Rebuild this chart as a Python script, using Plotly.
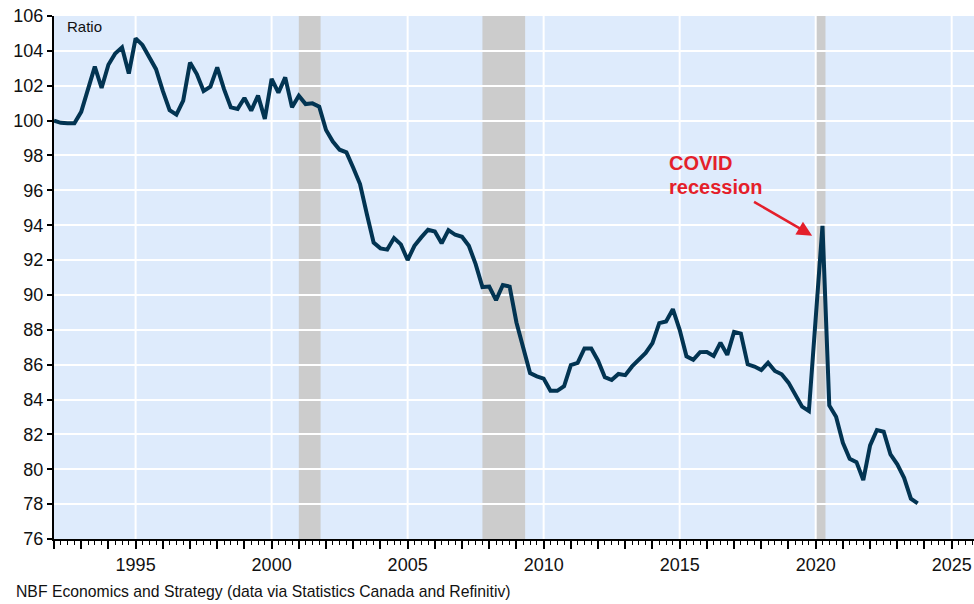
import plotly.graph_objects as go

start_year = 1992
values = [
    100.0, 99.87, 99.85, 99.85,      # 1992
    100.5, 101.8, 103.1, 101.87,     # 1993
    103.2, 103.85, 104.2, 102.7,     # 1994
    104.72, 104.34, 103.6, 102.95,   # 1995
    101.7, 100.6, 100.34, 101.15,    # 1996
    103.33, 102.67, 101.7, 101.94,   # 1997
    103.05, 101.8, 100.76, 100.67,   # 1998
    101.3, 100.57, 101.43, 100.1,    # 1999
    102.4, 101.6, 102.48, 100.76,    # 2000
    101.43, 100.95, 100.99, 100.8,   # 2001
    99.46, 98.8, 98.33, 98.18,       # 2002
    97.3, 96.36, 94.64, 93.0,        # 2003
    92.67, 92.6, 93.26, 92.9,        # 2004
    92.0, 92.82, 93.3, 93.74,        # 2005
    93.64, 92.96, 93.72, 93.45,      # 2006
    93.34, 92.82, 91.77, 90.45,      # 2007
    90.48, 89.7, 90.57, 90.48,       # 2008
    88.42, 86.9, 85.52, 85.33,       # 2009
    85.2, 84.5, 84.5, 84.76,         # 2010
    85.98, 86.1, 86.93, 86.93,       # 2011
    86.23, 85.28, 85.12, 85.47,      # 2012
    85.4, 85.9, 86.28, 86.67,        # 2013
    87.24, 88.38, 88.48, 89.18,      # 2014
    88.0, 86.48, 86.28, 86.72,       # 2015
    86.73, 86.5, 87.26, 86.56,       # 2016
    87.88, 87.78, 86.02, 85.89,      # 2017
    85.69, 86.11, 85.64, 85.45,      # 2018
    84.97, 84.3, 83.59, 83.34,       # 2019
    88.66, 93.96, 83.66, 83.01,      # 2020
    81.52, 80.6, 80.41, 79.38,       # 2021
    81.37, 82.25, 82.15, 80.85,      # 2022
    80.28, 79.51, 78.31, 78.04,      # 2023
]
x_dates = [start_year + i / 4 for i in range(len(values))]

recession_starts = [2001.0, 2007.75, 2020.0]
recession_ends = [2001.8, 2009.32, 2020.36]

year_ticks = list(range(1992, 2026))
year_labels = [str(y) if y % 5 == 0 else "" for y in year_ticks]
grid_years = [1995, 2000, 2005, 2010, 2015, 2020, 2025]
y_ticks = list(range(76, 107, 2))

FONT = "Liberation Sans, Arial, sans-serif"

fig = go.Figure()
fig.add_trace(go.Scatter(
    x=x_dates, y=values, mode="lines",
    line=dict(color="#023452", width=4),
    hoverinfo="skip", showlegend=False,
))

shapes = []
for s, e in zip(recession_starts, recession_ends):
    shapes.append(dict(type="rect", xref="x", yref="paper", x0=s, x1=e, y0=0, y1=1,
                       fillcolor="#cccccc", line=dict(width=0), layer="below"))
for g in grid_years:
    shapes.append(dict(type="line", xref="x", yref="paper", x0=g, x1=g, y0=0, y1=1,
                       line=dict(color="white", width=2), layer="below"))

annotations = [
    dict(text="Ratio", xref="paper", yref="paper", x=0.012, y=0.979,
         xanchor="left", yanchor="middle", showarrow=False,
         font=dict(family=FONT, size=15, color="#111111")),
    dict(text="NBF Economics and Strategy (data via Statistics Canada and Refinitiv)",
         xref="paper", yref="paper", x=-0.044, y=-0.101,
         xanchor="left", yanchor="middle", showarrow=False,
         font=dict(family=FONT, size=15.75, color="#111111")),
    dict(text="<b>COVID</b>", xref="x", yref="y", x=2014.55, y=97.55,
         xanchor="left", yanchor="middle", showarrow=False,
         font=dict(family=FONT, size=20, color="#e41f2b")),
    dict(text="<b>recession</b>", xref="x", yref="y", x=2014.55, y=96.2,
         xanchor="left", yanchor="middle", showarrow=False,
         font=dict(family=FONT, size=20, color="#e41f2b")),
    dict(text="", xref="x", yref="y", x=2019.87, y=93.4,
         axref="x", ayref="y", ax=2017.68, ay=95.39,
         showarrow=True, arrowhead=2, arrowsize=1.2, arrowwidth=2.5,
         arrowcolor="#e41f2b"),
]

fig.update_layout(
    width=974, height=604,
    margin=dict(l=54, r=0, t=16, b=65),
    paper_bgcolor="white", plot_bgcolor="#deebfc",
    font=dict(family=FONT, size=17, color="#111111"),
    shapes=shapes, annotations=annotations,
    showlegend=False,
)
fig.update_xaxes(
    range=[1992, 2025.82], tickmode="array", tickvals=year_ticks, ticktext=year_labels,
    ticks="outside", ticklen=8, tickwidth=1.5, tickcolor="black",
    showline=True, linecolor="black", linewidth=2, showgrid=False, zeroline=False,
    ticklabelstandoff=0,
    minor=dict(dtick=0.25, tick0=1992, ticks="outside", ticklen=4, tickwidth=1.2,
               tickcolor="black", showgrid=False),
    tickfont=dict(family=FONT, size=18, color="#111111"),
)
fig.update_yaxes(
    range=[76, 106], tickmode="array", tickvals=y_ticks,
    ticks="outside", ticklen=5, tickwidth=1.5, tickcolor="black",
    showline=True, linecolor="black", linewidth=2,
    showgrid=True, gridcolor="white", gridwidth=2, zeroline=False,
    tickfont=dict(family=FONT, size=18, color="#111111"),
)

fig.write_html("out.html",
               config={"displayModeBar": False},
               post_script="document.body.style.margin='0';document.body.style.overflow='hidden';")
